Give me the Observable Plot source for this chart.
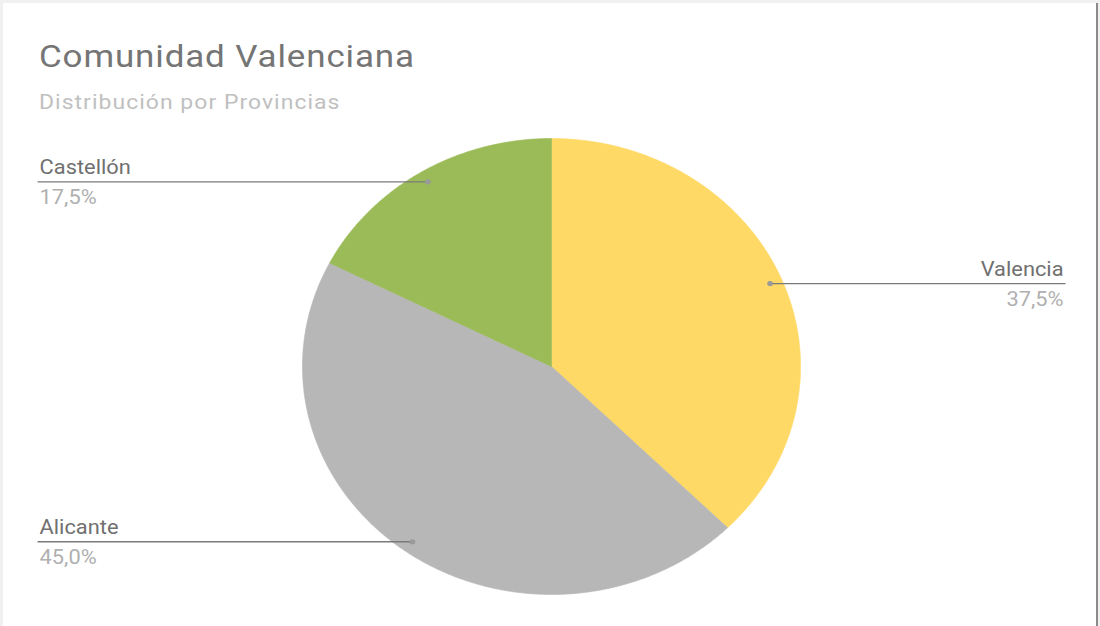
<!DOCTYPE html>
<html>
<head>
<meta charset="utf-8">
<script src="https://cdn.jsdelivr.net/npm/d3@7"></script>
<script src="https://cdn.jsdelivr.net/npm/@observablehq/plot@0.6"></script>
<style>
  html, body { margin: 0; padding: 0; width: 1100px; height: 626px; overflow: hidden; background: #f0f0f0; }
  #card { position: absolute; left: 3px; top: 3px; width: 1095px; height: 623px; background: #fff;
          border-right: 2px solid #8a8a8a; box-sizing: border-box; }
  #stage { position: absolute; left: 0; top: 0; width: 1007px; height: 626px;
           transform: scaleX(1.0923); transform-origin: 0 0; font-family: Roboto, sans-serif; }
  #title { position: absolute; left: 35.7px; top: 40px; font-size: 32px; line-height: 32px; letter-spacing: 0.8px; color: #757575; white-space: nowrap; }
  #subtitle { position: absolute; left: 35.7px; top: 91.5px; font-size: 21px; line-height: 21px; letter-spacing: 0.95px; color: #c0c0c0; white-space: nowrap; }
  #chart { position: absolute; left: 0; top: 120px; }
</style>
</head>
<body>
<div id="card"></div>
<div id="stage">
  <div id="title">Comunidad Valenciana</div>
  <div id="subtitle">Distribución por Provincias</div>
  <div id="chart"></div>
</div>
<script>
// Data
const provinces = ["Valencia", "Alicante", "Castellón"];
const shares = [37.5, 45.0, 17.5];
const colors = ["#ffd966", "#b7b7b7", "#9bbb59"];

// Layout
const W = 1007, H = 506, mL = 33.9, mR = 32;
const xRange = [276.4, 732.4], yRange = [474, 18];
const xs = d3.scaleLinear([-1, 1], xRange);
const leftEdge = xs.invert(mL), rightEdge = xs.invert(W - mR);

// Build slices (clockwise from 12 o'clock) in unit-circle data space
const total = d3.sum(shares);
let acc = 0;
const slices = provinces.map((name, i) => {
  const a0 = acc / total * 2 * Math.PI;
  acc += shares[i];
  const a1 = acc / total * 2 * Math.PI;
  return {name, value: shares[i], a0, a1, mid: (a0 + a1) / 2};
});

const polygon = [];
for (const s of slices) {
  polygon.push({name: s.name, x: 0, y: 0});
  const n = Math.max(2, Math.ceil((s.a1 - s.a0) / (Math.PI / 360)));
  for (let k = 0; k <= n; k++) {
    const a = s.a0 + (s.a1 - s.a0) * k / n;
    polygon.push({name: s.name, x: Math.sin(a), y: Math.cos(a)});
  }
  polygon.push({name: s.name, x: 0, y: 0});
}

const labelR = 0.95;
const labels = slices.map(s => {
  const x = labelR * Math.sin(s.mid);
  const side = x >= 0 ? "right" : "left";
  return {
    name: s.name,
    pct: s.value.toFixed(1).replace(".", ",") + "%",
    x, y: labelR * Math.cos(s.mid), side,
    edge: side === "right" ? rightEdge : leftEdge
  };
});
const left = labels.filter(d => d.side === "left");
const right = labels.filter(d => d.side === "right");

const textStyle = {fontFamily: "Roboto, sans-serif", fontSize: 20, lineAnchor: "bottom"};

const plot = Plot.plot({
  width: W,
  height: H,
  marginLeft: mL,
  marginRight: mR,
  marginTop: 0,
  marginBottom: 0,
  x: {domain: [-1, 1], range: xRange, axis: null},
  y: {domain: [-1, 1], range: yRange, axis: null},
  color: {domain: provinces, range: colors},
  style: {background: "transparent", overflow: "visible"},
  marks: [
    Plot.line(polygon, {x: "x", y: "y", z: "name", fill: "name", stroke: "name", strokeWidth: 0.6, curve: "linear"}),
    Plot.link(labels, {x1: "edge", x2: "x", y1: "y", y2: "y", stroke: "#7a7a7a", strokeWidth: 1.3}),
    Plot.dot(labels, {x: "x", y: "y", r: 2.6, fill: "#9a9a9a", stroke: "none"}),
    Plot.text(left, {y: "y", text: "name", frameAnchor: "left", textAnchor: "start", dx: 1.8, dy: -8, fill: "#707070", ...textStyle}),
    Plot.text(left, {y: "y", text: "pct", frameAnchor: "left", textAnchor: "start", dx: 1.8, dy: 22, fill: "#b0b0b0", ...textStyle}),
    Plot.text(right, {y: "y", text: "name", frameAnchor: "right", textAnchor: "end", dx: -1.8, dy: -8, fill: "#707070", ...textStyle}),
    Plot.text(right, {y: "y", text: "pct", frameAnchor: "right", textAnchor: "end", dx: -1.8, dy: 22, fill: "#b0b0b0", ...textStyle})
  ]
});
document.getElementById("chart").appendChild(plot);
</script>
</body>
</html>
